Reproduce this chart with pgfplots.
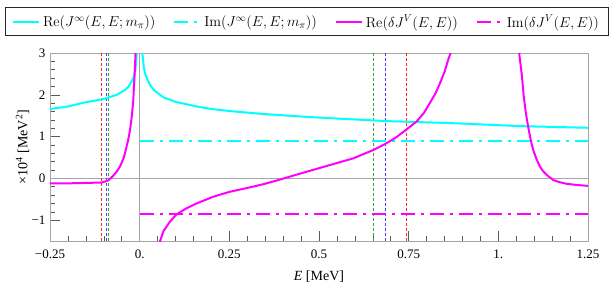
\documentclass[border=0pt]{standalone}
\usepackage[no-math]{fontspec}
\setmainfont{Liberation Serif}
\usepackage{pgfplots}
\pgfplotsset{compat=1.18}
\definecolor{mycyan}{rgb}{0,1,1}
\definecolor{mymag}{rgb}{1,0,1}
\definecolor{vred}{rgb}{1,0.15,0.15}
\definecolor{vblue}{rgb}{0.25,0.25,1}
\definecolor{vgreen}{rgb}{0.2,0.65,0.2}
\begin{document}
\begin{tikzpicture}[font=\fontsize{13}{15}\selectfont]
\path[use as bounding box] (-50pt,-44pt) rectangle (565pt,241pt);
\begin{axis}[
  scale only axis, width=538pt, height=188pt,
  xmin=-0.25, xmax=1.25, ymin=-1.5, ymax=3,
  xtick={-0.25,0,0.25,0.5,0.75,1,1.25},
  xticklabels={−0.25,0.,0.25,0.5,0.75,1.,1.25},
  ytick={-1,0,1,2,3}, yticklabels={−1,0,1,2,3},
  minor x tick num=4, minor y tick num=4,
  tick align=inside, xtick pos=bottom, ytick pos=left,
  major tick length=10pt, minor tick length=5pt,
  every tick/.style={gray!70!black, line width=0.5pt},
  axis line style={gray!70, line width=0.8pt},
  ticklabel style={font=\fontsize{13}{15}\selectfont},
  xticklabel style={yshift=-5pt},
  yticklabel style={xshift=-1pt},
  xlabel={\textit{E} [MeV]},
  ylabel={×10\textsuperscript{4} [MeV\textsuperscript{2}]},
  every axis x label/.style={at={(axis description cs:0.5,-0.19)}, anchor=center, font=\fontsize{14}{16}\selectfont},
  every axis y label/.style={at={(axis description cs:-0.051,0.5)}, anchor=center, rotate=90, font=\fontsize{14}{16}\selectfont},
  unbounded coords=jump,
  legend columns=4,
  legend cell align=left,
  legend image code/.code={\draw[#1] (0pt,0pt) -- (26pt,0pt);},
  legend style={at={(axis description cs:0.4777,1.0904)}, anchor=south,
    draw=gray!30!black, line width=1pt, inner xsep=7pt, inner ysep=5pt,
    font=\fontsize{14.4}{16}\selectfont,
    nodes={inner xsep=3pt},
    /tikz/every even column/.append style={column sep=15pt}},
]
% axis lines
\addplot[gray!70, line width=0.5pt, forget plot] coordinates {(0,-1.5) (0,3)};
\addplot[gray!70, line width=0.5pt, forget plot] coordinates {(-0.25,0) (1.25,0)};
% vertical dashed lines
\addplot[vred, line width=0.9pt, dash pattern=on 3pt off 2pt, forget plot] coordinates {(-0.106,-1.5) (-0.106,3)};
\addplot[vblue, line width=0.9pt, dash pattern=on 3pt off 2pt, forget plot] coordinates {(-0.094,-1.5) (-0.094,3)};
\addplot[vgreen, line width=0.9pt, dash pattern=on 3pt off 2pt, forget plot] coordinates {(-0.0875,-1.5) (-0.0875,3)};
\addplot[vred, line width=0.9pt, dash pattern=on 3pt off 2pt, forget plot] coordinates {(0.744,-1.5) (0.744,3)};
\addplot[vblue, line width=0.9pt, dash pattern=on 3pt off 2pt, forget plot] coordinates {(0.684,-1.5) (0.684,3)};
\addplot[vgreen, line width=0.9pt, dash pattern=on 3pt off 2pt, forget plot] coordinates {(0.652,-1.5) (0.652,3)};
% Re J infinity
\addplot[mycyan, line width=2pt] coordinates {
(-0.25,1.66) (-0.2,1.72) (-0.157,1.81) (-0.1,1.90) (-0.064,2.00) (-0.04,2.12)
(-0.03,2.21) (-0.018,2.39) (-0.012,2.58) (-0.008,3.0) (-0.004,3.5) (-0.001,4.2)
(nan,nan)
(0.001,4.2) (0.004,3.4) (0.008,2.95) (0.012,2.64) (0.0148,2.51) (0.02,2.40)
(0.029,2.23) (0.04,2.11) (0.066,1.94) (0.1,1.83) (0.159,1.72) (0.2,1.66)
(0.252,1.61) (0.345,1.54) (0.45,1.48) (0.53,1.44) (0.689,1.37) (0.874,1.32)
(1.06,1.25) (1.25,1.21)};
\addlegendentry{$\mathrm{Re}(J^{\infty}(E,E;m_{\pi}))$}
% Im J infinity
\addplot[mycyan, line width=2pt, dash pattern=on 14pt off 6pt on 3pt off 6pt] coordinates {(0,0.89) (1.25,0.89)};
\addlegendentry{$\mathrm{Im}(J^{\infty}(E,E;m_{\pi}))$}
% Re delta J^V
\addplot[mymag, line width=2pt] coordinates {
(-0.25,-0.12) (-0.2,-0.12) (-0.15,-0.11) (-0.106,-0.10) (-0.0875,-0.05)
(-0.074,0.06) (-0.065,0.15) (-0.055,0.28) (-0.045,0.48) (-0.041,0.60)
(-0.032,0.92) (-0.027,1.15) (-0.022,1.48) (-0.018,1.85) (-0.014,2.5)
(-0.011,3.1) (-0.009,3.6)
(nan,nan)
(0.05,-1.75) (0.057,-1.5) (0.066,-1.27) (0.084,-1.04) (0.103,-0.86) (0.13,-0.72)
(0.159,-0.60) (0.205,-0.44) (0.252,-0.32) (0.3,-0.23) (0.345,-0.14) (0.391,-0.03)
(0.438,0.09) (0.503,0.25) (0.531,0.32) (0.596,0.48) (0.652,0.68) (0.684,0.82)
(0.715,0.98) (0.744,1.17) (0.772,1.36) (0.792,1.56) (0.809,1.80) (0.825,2.04)
(0.837,2.27) (0.850,2.55) (0.860,2.83) (0.875,3.2)
(nan,nan)
(1.050,3.3) (1.058,3.0) (1.065,2.51) (1.071,1.95) (1.077,1.55) (1.083,1.24)
(1.090,0.93) (1.097,0.68) (1.106,0.47) (1.116,0.28) (1.125,0.17) (1.135,0.08)
(1.153,-0.04) (1.17,-0.09) (1.19,-0.13) (1.22,-0.16) (1.25,-0.18)};
\addlegendentry{$\mathrm{Re}(\delta J^{V}(E,E))$}
% Im delta J^V
\addplot[mymag, line width=2pt, dash pattern=on 14pt off 6pt on 3pt off 6pt] coordinates {(0,-0.86) (1.25,-0.86)};
\addlegendentry{$\mathrm{Im}(\delta J^{V}(E,E))$}
\end{axis}
\end{tikzpicture}
\end{document}
